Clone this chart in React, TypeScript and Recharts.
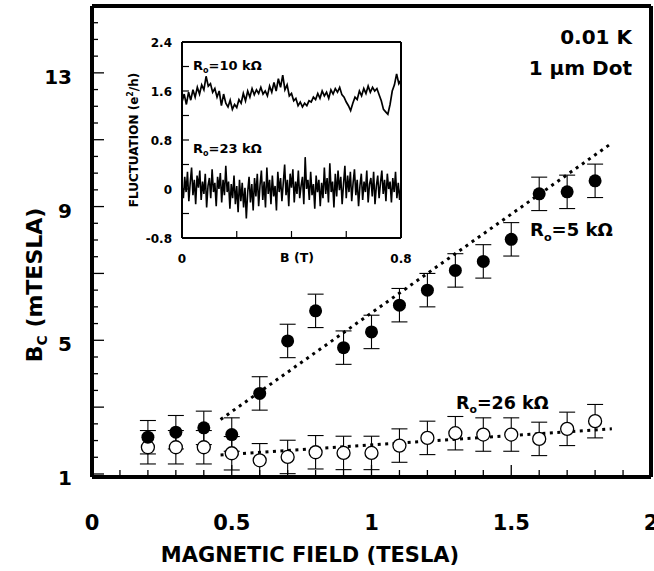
import React from "react";
import { ComposedChart, LineChart, Line, Scatter, ErrorBar, XAxis, YAxis } from "recharts";

const FONT = "'DejaVu Sans', 'Liberation Sans', Arial, sans-serif";

// main panel: critical field vs magnetic field
const fieldTesla = [0.2, 0.3, 0.4, 0.5, 0.6, 0.7, 0.8, 0.9, 1.0, 1.1, 1.2, 1.3, 1.4, 1.5, 1.6, 1.7, 1.8];
const bc5k = [2.1, 2.25, 2.38, 2.18, 3.41, 4.98, 5.88, 4.78, 5.25, 6.05, 6.5, 7.09, 7.36, 8.02, 9.38, 9.44, 9.77];
const bc26k = [1.8, 1.8, 1.8, 1.62, 1.41, 1.51, 1.65, 1.63, 1.63, 1.85, 2.08, 2.22, 2.18, 2.18, 2.05, 2.35, 2.58];
const bcError = 0.5;

const fitField = [0.46, 1.86];
const fit5k = [2.63, 10.9];
const fit26k = [1.57, 2.35];

const xTicks = [0, 0.1, 0.2, 0.3, 0.4, 0.5, 0.6, 0.7, 0.8, 0.9, 1, 1.1, 1.2, 1.3, 1.4, 1.5, 1.6, 1.7, 1.8, 1.9, 2];
const xTickLabels = [0, 0.5, 1, 1.5, 2];
const yTicks = [1, 1.5, 2, 2.5, 3, 3.5, 4, 4.5, 5, 5.5, 6, 6.5, 7, 7.5, 8, 8.5, 9, 9.5, 10, 10.5, 11, 11.5, 12, 12.5, 13, 13.5, 14, 14.5, 15];
const yTickLabels = [1, 5, 9, 13];
const yLongTicks = [1, 3, 5, 7, 9, 11, 13, 15];

// inset: conductance fluctuation traces, 0..0.8 T
const trace10k = [
  1.42, 1.55, 1.38, 1.58, 1.45, 1.62, 1.5, 1.66, 1.55, 1.7, 1.62, 1.84, 1.68, 1.72, 1.58, 1.64, 1.5, 1.6, 1.36, 1.55,
  1.4, 1.34, 1.45, 1.3, 1.38, 1.33, 1.46, 1.4, 1.56, 1.44, 1.6, 1.5, 1.64, 1.54, 1.62, 1.56, 1.66, 1.55, 1.6, 1.52,
  1.68, 1.58, 1.74, 1.6, 1.8, 1.66, 1.86, 1.62, 1.7, 1.52, 1.56, 1.44, 1.48, 1.36, 1.42, 1.34, 1.4, 1.36, 1.44, 1.42,
  1.5, 1.46, 1.56, 1.48, 1.6, 1.52, 1.58, 1.48, 1.62, 1.55, 1.64, 1.58, 1.66, 1.54, 1.5, 1.42, 1.36, 1.28, 1.4, 1.5,
  1.46, 1.6, 1.52, 1.64, 1.56, 1.68, 1.58, 1.66, 1.6, 1.64, 1.54, 1.44, 1.3, 1.26, 1.22, 1.38, 1.6, 1.7, 1.88, 1.72,
  1.78,
];
const trace23k = [
  0.05, -0.15, 0.2, -0.05, 0.28, -0.2, 0.1, 0.35, -0.1, 0.15, -0.25, 0.22, 0.02, 0.3, -0.18, 0.12, -0.08, 0.25, -0.3, 0.05,
  0.18, -0.15, 0.32, -0.05, 0.1, -0.28, 0.2, 0.0, 0.26, -0.22, 0.15, -0.1, 0.38, -0.05, 0.12, -0.32, 0.08, -0.15, 0.22, -0.25,
  0.05, -0.38, 0.15, -0.2, 0.1, -0.3, 0.02, -0.48, -0.05, 0.2, -0.22, 0.08, -0.35, 0.18, -0.12, 0.25, -0.28, 0.06, 0.3, -0.18,
  0.12, -0.3, 0.35, -0.08, 0.15, -0.25, 0.22, -0.12, 0.05, -0.35, 0.28, -0.05, 0.18, -0.2, 0.1, 0.4, -0.1, 0.15, -0.28, 0.25,
  0.02, 0.32, -0.22, 0.12, -0.08, 0.3, -0.15, 0.05, 0.2, -0.25, 0.52, 0.0, 0.15, -0.18, 0.28, -0.1, 0.08, -0.32, 0.22, -0.05,
  0.15, -0.28, 0.1, -0.15, 0.35, -0.08, 0.18, -0.22, 0.42, -0.05, 0.12, -0.3, 0.25, -0.12, 0.3, -0.02, 0.2, -0.25, 0.08, 0.38,
  -0.15, 0.22, -0.05, 0.28, -0.2, 0.1, 0.32, -0.1, 0.15, -0.28, 0.05, 0.25, -0.18, 0.12, -0.05, 0.3, -0.22, 0.08, 0.18, -0.12,
  0.28, -0.25, 0.05, 0.22, -0.15, 0.1, 0.3, -0.08, 0.15, -0.2, 0.25, 0.0, 0.12, -0.22, 0.18, -0.05, 0.28, -0.15, 0.1, -0.18,
  0.05,
];
const insetMaxB = 0.8;
const insetXTicks = [0, 0.2, 0.4, 0.6, 0.8];
const insetXLabels = [0, 0.8];
const insetYTicks = [-0.8, -0.4, 0, 0.4, 0.8, 1.2, 1.6, 2.0, 2.4];
const insetYLabels = [-0.8, 0, 0.8, 1.6, 2.4];

const rows5k = fieldTesla.map((x, i) => ({ x, y: bc5k[i], err: bcError }));
const rows26k = fieldTesla.map((x, i) => ({ x, y: bc26k[i], err: bcError }));
const fitRows5k = fitField.map((x, i) => ({ x, y: fit5k[i] }));
const fitRows26k = fitField.map((x, i) => ({ x, y: fit26k[i] }));
const toTrace = (vals: number[]) => vals.map((v, i) => ({ b: (i * insetMaxB) / (vals.length - 1), v }));
const rows10k = toTrace(trace10k);
const rows23k = toTrace(trace23k);

const txt = { fontFamily: FONT, fontWeight: 700, fill: "#000" } as const;

function BottomTick({ x, y, payload }: any) {
  const major = xTickLabels.includes(payload.value);
  return (
    <g>
      <line x1={x} x2={x} y1={y} y2={y - (major ? 12 : 7)} stroke="#000" strokeWidth={1.3} />
      {major && (
        <text x={x} y={y + 53} textAnchor="middle" fontSize={21} {...txt}>
          {payload.value}
        </text>
      )}
    </g>
  );
}

function TopTick({ x, y, payload }: any) {
  const major = xTickLabels.includes(payload.value);
  return <line x1={x} x2={x} y1={y} y2={y + (major ? 12 : 7)} stroke="#000" strokeWidth={1.3} />;
}

function LeftTick({ x, y, payload }: any) {
  const long = yLongTicks.includes(payload.value);
  return (
    <g>
      <line x1={x} x2={x + (long ? 12 : 6)} y1={y} y2={y} stroke="#000" strokeWidth={1.3} />
      {yTickLabels.includes(payload.value) && (
        <text x={x - 20} y={y + 11} textAnchor="end" fontSize={20} {...txt}>
          {payload.value}
        </text>
      )}
    </g>
  );
}

function RightTick({ x, y, payload }: any) {
  const long = yLongTicks.includes(payload.value);
  return <line x1={x} x2={x - (long ? 12 : 6)} y1={y} y2={y} stroke="#000" strokeWidth={1.3} />;
}

function InsetBottomTick({ x, y, payload }: any) {
  return (
    <g>
      <line x1={x} x2={x} y1={y} y2={y - 7} stroke="#000" strokeWidth={1.2} />
      {insetXLabels.includes(payload.value) && (
        <text x={x} y={y + 25} textAnchor="middle" fontSize={12} {...txt}>
          {payload.value}
        </text>
      )}
    </g>
  );
}

function InsetTopTick({ x, y }: any) {
  return <line x1={x} x2={x} y1={y} y2={y + 7} stroke="#000" strokeWidth={1.2} />;
}

function InsetLeftTick({ x, y, payload }: any) {
  return (
    <g>
      <line x1={x} x2={x + 7} y1={y} y2={y} stroke="#000" strokeWidth={1.2} />
      {insetYLabels.includes(payload.value) && (
        <text x={x - 10} y={y + 4.5} textAnchor="end" fontSize={12} {...txt}>
          {payload.value}
        </text>
      )}
    </g>
  );
}

function InsetRightTick({ x, y }: any) {
  return <line x1={x} x2={x - 7} y1={y} y2={y} stroke="#000" strokeWidth={1.2} />;
}

const filledDot = (p: any) => <circle cx={p.cx} cy={p.cy} r={6.5} fill="#000" />;
const openDot = (p: any) => <circle cx={p.cx} cy={p.cy} r={6.5} fill="#fff" stroke="#000" strokeWidth={1.3} />;

const frame = { stroke: "#000", strokeWidth: 4 };
const insetFrame = { stroke: "#000", strokeWidth: 2 };

function Ro({ x, y, size, label }: { x: number; y: number; size: number; label: string }) {
  return (
    <text x={x} y={y} fontSize={size} {...txt}>
      R
      <tspan fontSize={size * 0.62} dy={size * 0.25}>o</tspan>
      <tspan dy={-size * 0.25}>{label}</tspan>
    </text>
  );
}

export default function App() {
  return (
    <div style={{ position: "relative", width: 654, height: 571, background: "#fff" }}>
      <style>{"body{margin:0}"}</style>
      <ComposedChart width={654} height={571} margin={{ top: 5, right: 2, bottom: 93, left: 91 }}>
        <XAxis
          dataKey="x"
          type="number"
          domain={[0, 2]}
          ticks={xTicks}
          interval={0}
          height={1}
          tickSize={0}
          tickMargin={0}
          tickLine={false}
          axisLine={frame}
          tick={<BottomTick />}
        />
        <XAxis
          xAxisId="top"
          orientation="top"
          dataKey="x"
          type="number"
          domain={[0, 2]}
          ticks={xTicks}
          interval={0}
          height={1}
          tickSize={0}
          tickMargin={0}
          tickLine={false}
          axisLine={frame}
          tick={<TopTick />}
        />
        <YAxis
          type="number"
          domain={[1, 15]}
          ticks={yTicks}
          interval={0}
          width={1}
          tickSize={0}
          tickMargin={0}
          tickLine={false}
          axisLine={frame}
          tick={<LeftTick />}
        />
        <YAxis
          yAxisId="right"
          orientation="right"
          type="number"
          domain={[1, 15]}
          ticks={yTicks}
          interval={0}
          width={1}
          tickSize={0}
          tickMargin={0}
          tickLine={false}
          axisLine={frame}
          tick={<RightTick />}
        />
        <Line data={fitRows5k} dataKey="y" type="linear" stroke="#000" strokeWidth={3} strokeDasharray="3 4.5" dot={false} isAnimationActive={false} />
        <Line data={fitRows26k} dataKey="y" type="linear" stroke="#000" strokeWidth={3} strokeDasharray="3 4.5" dot={false} isAnimationActive={false} />
        <Scatter data={rows26k} dataKey="y" shape={openDot} isAnimationActive={false}>
          <ErrorBar dataKey="err" direction="y" width={8} stroke="#000" strokeWidth={1.1} />
        </Scatter>
        <Scatter data={rows5k} dataKey="y" shape={filledDot} isAnimationActive={false}>
          <ErrorBar dataKey="err" direction="y" width={8} stroke="#000" strokeWidth={1.1} />
        </Scatter>
      </ComposedChart>

      <div style={{ position: "absolute", left: 140, top: 30 }}>
        <LineChart width={290} height={240} margin={{ top: 11, right: 28, bottom: 31, left: 41 }}>
          <XAxis dataKey="b" type="number" domain={[0, 0.8]} ticks={insetXTicks} interval={0} height={1} tickSize={0} tickMargin={0} tickLine={false} axisLine={insetFrame} tick={<InsetBottomTick />} />
          <XAxis xAxisId="top" orientation="top" dataKey="b" type="number" domain={[0, 0.8]} ticks={insetXTicks} interval={0} height={1} tickSize={0} tickMargin={0} tickLine={false} axisLine={insetFrame} tick={<InsetTopTick />} />
          <YAxis type="number" domain={[-0.8, 2.4]} ticks={insetYTicks} interval={0} width={1} tickSize={0} tickMargin={0} tickLine={false} axisLine={insetFrame} tick={<InsetLeftTick />} />
          <YAxis yAxisId="right" orientation="right" type="number" domain={[-0.8, 2.4]} ticks={insetYTicks} interval={0} width={1} tickSize={0} tickMargin={0} tickLine={false} axisLine={insetFrame} tick={<InsetRightTick />} />
          <Line data={rows10k} dataKey="v" type="linear" stroke="#000" strokeWidth={1.7} dot={false} isAnimationActive={false} />
          <Line data={rows23k} dataKey="v" type="linear" stroke="#000" strokeWidth={1.6} dot={false} isAnimationActive={false} />
        </LineChart>
      </div>

      <svg width={654} height={571} style={{ position: "absolute", left: 0, top: 0, pointerEvents: "none" }}>
        <text x={632} y={44} textAnchor="end" fontSize={20} {...txt}>0.01 K</text>
        <text x={632} y={75} textAnchor="end" fontSize={20} {...txt}>1 μm Dot</text>
        <Ro x={530} y={236} size={18} label="=5 kΩ" />
        <Ro x={456} y={409} size={17.5} label="=26 kΩ" />
        <Ro x={193} y={70} size={13} label="=10 kΩ" />
        <Ro x={193} y={153} size={13} label="=23 kΩ" />
        <text x={297} y={262} textAnchor="middle" fontSize={12.5} {...txt}>B (T)</text>
        <text transform="translate(138,140) rotate(-90)" textAnchor="middle" fontSize={12} {...txt}>
          FLUCTUATION (e<tspan fontSize={8} dy={-5}>2</tspan>
          <tspan dy={5}>/h)</tspan>
        </text>
        <text transform="translate(42,285) rotate(-90)" textAnchor="middle" fontSize={22} {...txt}>
          B<tspan fontSize={14} dy={5}>C</tspan>
          <tspan dy={-5}> (mTESLA)</tspan>
        </text>
        <text x={310} y={562} textAnchor="middle" fontSize={21} {...txt}>MAGNETIC FIELD (TESLA)</text>
      </svg>
    </div>
  );
}
